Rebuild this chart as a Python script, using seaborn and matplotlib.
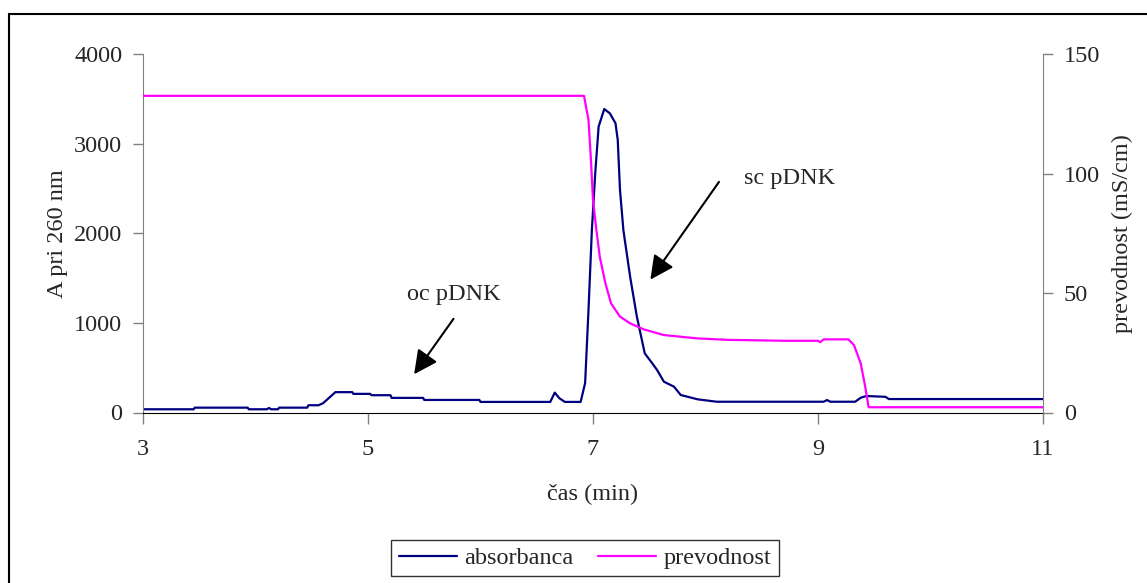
import numpy as np
import pandas as pd
import matplotlib
matplotlib.use('Agg')
import matplotlib.pyplot as plt
import seaborn as sns
from matplotlib.patches import Rectangle

# absorbanca (A pri 260 nm)
cas_abs = [3.00, 3.45, 3.46, 3.93, 3.94, 4.10, 4.12, 4.14, 4.20, 4.21, 4.46, 4.47,
           4.56, 4.60, 4.71, 4.86, 4.87, 5.02, 5.03, 5.20, 5.21, 5.49, 5.50, 5.99,
           6.00, 6.62, 6.66, 6.70, 6.75, 6.89, 6.93, 6.96, 6.99, 7.02, 7.05, 7.10,
           7.15, 7.20, 7.22, 7.24, 7.27, 7.33, 7.39, 7.46, 7.52, 7.57, 7.63, 7.72,
           7.78, 7.93, 8.10, 9.05, 9.08, 9.11, 9.33, 9.38, 9.43, 9.60, 9.63, 11.00]
absorbanca = [36, 36, 54, 54, 36, 36, 50, 36, 36, 54, 54, 81,
              81, 103, 227, 227, 208, 208, 193, 193, 163, 163, 140, 140,
              118, 118, 222, 160, 118, 118, 329, 1144, 2036, 2672, 3189, 3386,
              3338, 3227, 3040, 2482, 2036, 1515, 1069, 660, 560, 474, 344, 288,
              195, 147, 120, 120, 139, 120, 120, 165, 184, 175, 150, 150]

# prevodnost (mS/cm)
cas_prev = [3.00, 6.92, 6.96, 6.98, 7.00, 7.03, 7.06, 7.11, 7.16, 7.24, 7.33,
            7.45, 7.63, 7.93, 8.20, 8.70, 9.00, 9.02, 9.05, 9.27, 9.32, 9.38,
            9.42, 9.45, 11.00]
prevodnost = [132.5, 132.5, 122.4, 107.0, 88.9, 76.4, 65.2, 54.1, 45.7, 40.1, 37.3,
              34.8, 32.4, 31.0, 30.4, 30.0, 30.0, 29.4, 30.6, 30.6, 28.2, 20.5,
              10.7, 2.2, 2.2]

df_abs = pd.DataFrame({'cas': cas_abs, 'A': absorbanca})
df_prev = pd.DataFrame({'cas': cas_prev, 'G': prevodnost})

sns.set_style('ticks')
plt.rcParams['font.family'] = ['Liberation Serif', 'DejaVu Serif']
fs = 17.5

fig, ax = plt.subplots(figsize=(11.47, 5.83), dpi=100)
fig.subplots_adjust(left=143/1147, right=1043/1147, top=1-54/583, bottom=1-412.5/583)
ax2 = ax.twinx()

sns.lineplot(x='cas', y='A', data=df_abs, ax=ax, color='#000080', lw=1.6,
             estimator=None, sort=False, label='absorbanca', legend=False)
sns.lineplot(x='cas', y='G', data=df_prev, ax=ax2, color='#FF00FF', lw=1.6,
             estimator=None, sort=False, label='prevodnost', legend=False)

ax.set_xlim(3, 11)
ax.set_ylim(0, 4000)
ax2.set_ylim(0, 150)
ax.set_xticks([3, 5, 7, 9, 11])
ax.set_yticks([0, 1000, 2000, 3000, 4000])
ax2.set_yticks([0, 50, 100, 150])

for a in (ax, ax2):
    a.spines['top'].set_visible(False)
ax.spines['right'].set_visible(False)
ax2.spines['left'].set_visible(False)
ax2.spines['bottom'].set_visible(False)
ax.spines['left'].set_color('#808080')
ax2.spines['right'].set_color('#808080')
ax.spines['bottom'].set_color('black')

ax.tick_params(axis='y', length=7, width=1, color='#808080', pad=8, labelsize=fs)
ax.tick_params(axis='x', length=8, width=1, color='#808080', pad=11, labelsize=fs)
ax2.tick_params(axis='y', length=7, width=1, color='#808080', pad=8, labelsize=fs)

ax.set_xlabel('čas (min)', fontsize=fs)
ax.set_ylabel('A pri 260 nm', fontsize=fs)
ax2.set_ylabel('prevodnost (mS/cm)', fontsize=fs)
ax.xaxis.set_label_coords(0.5, -0.20)
ax.yaxis.set_label_coords(-0.083, 0.5)
ax2.yaxis.set_label_coords(1.076, 0.5)

# arrows pointing to the peaks
arrow = dict(arrowstyle='-|>,head_length=0.8,head_width=0.4', color='black',
             lw=1.5, mutation_scale=18, shrinkA=0, shrinkB=0)
ax.annotate('', xy=(5.41, 427), xytext=(5.76, 1045), arrowprops=arrow)
ax.text(5.76, 1315, 'oc pDNK', fontsize=fs, ha='center', va='center')
ax.annotate('', xy=(7.51, 1483), xytext=(8.12, 2573), arrowprops=arrow)
ax.text(8.75, 2607, 'sc pDNK', fontsize=fs, ha='center', va='center')

handles = ax.get_lines()[:1] + ax2.get_lines()[:1]
leg = fig.legend(handles, ['absorbanca', 'prevodnost'], loc='center',
                 bbox_to_anchor=(585/1147, 1-558/583), ncol=2, fontsize=fs,
                 frameon=True, fancybox=False, edgecolor='black',
                 handlelength=2.4, handletextpad=0.3, columnspacing=1.0,
                 borderpad=0.3)
leg.get_frame().set_linewidth(1.0)

# outer chart border
fig.patches.append(Rectangle((9/1147, -0.1), 1.2, 1 - 14/583 + 0.1,
                             transform=fig.transFigure, fill=False,
                             edgecolor='black', lw=1.5))

fig.savefig('out.png', dpi=100)
